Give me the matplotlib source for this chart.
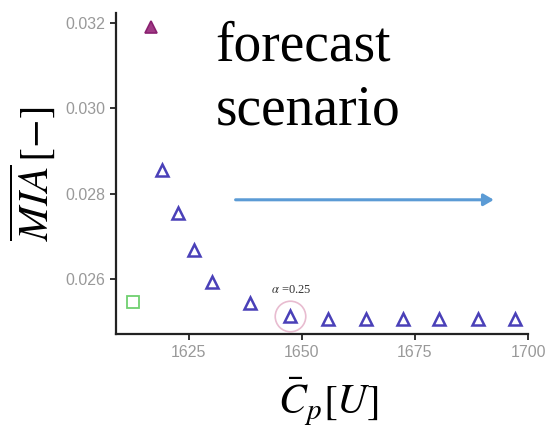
import matplotlib
matplotlib.use("Agg")
import matplotlib.pyplot as plt

plt.rcParams['mathtext.fontset'] = 'stix'
plt.rcParams['font.family'] = ['Liberation Serif', 'DejaVu Serif']

# data
tri_x = [1619.2, 1622.6, 1626.3, 1630.1, 1638.6, 1647.4, 1655.9, 1664.1, 1672.3, 1680.3, 1689.0, 1697.0]
tri_y = [0.02856, 0.02755, 0.02668, 0.02593, 0.02544, 0.02512, 0.02506, 0.02506, 0.02506, 0.02506, 0.02506, 0.02506]
red_x = [1616.8]
red_y = [0.0319]
green_x = [1612.8]
green_y = [0.02546]
alpha_x = 1647.4
alpha_y = 0.02512

xticks = [1625, 1650, 1675, 1700]
yticks = [0.026, 0.028, 0.030, 0.032]

fig = plt.figure(figsize=(5.53, 4.26), dpi=100)
ax = fig.add_axes([0.21, 0.216, 0.745, 0.753])

ax.plot(tri_x, tri_y, linestyle='none', marker='^', markersize=9,
        markerfacecolor='none', markeredgecolor='#4a40b8', markeredgewidth=1.8)
ax.plot(red_x, red_y, linestyle='none', marker='^', markersize=8,
        markerfacecolor='#a03a85', markeredgecolor='#8a2070', markeredgewidth=1.2)
ax.plot(green_x, green_y, linestyle='none', marker='s', markersize=8,
        markerfacecolor='none', markeredgecolor='#70d070', markeredgewidth=1.3)
ax.plot([alpha_x], [alpha_y], linestyle='none', marker='o', markersize=22,
        markerfacecolor='none', markeredgecolor='#e8bcd0', markeredgewidth=1.2)
ax.text(alpha_x - 4.2, alpha_y + 0.00055, r'$\alpha$ =0.25', fontsize=9, color='#333333')

ax.set_xlim(1609, 1700)
ax.set_ylim(0.02471, 0.03223)
ax.set_xticks(xticks)
ax.set_yticks(yticks)
ax.set_xticklabels([str(t) for t in xticks])
ax.set_yticklabels(['%.3f' % t for t in yticks])

for s in ['top', 'right']:
    ax.spines[s].set_visible(False)
for s in ['left', 'bottom']:
    ax.spines[s].set_linewidth(1.6)
    ax.spines[s].set_color('#222222')
ax.tick_params(length=4, width=1.3, color='#222222', labelcolor='#999999',
               labelsize=11.5, pad=4)
for lab in ax.get_xticklabels() + ax.get_yticklabels():
    lab.set_family('Liberation Sans')

# forecast annotation
fig.text(0.39, 0.951, 'forecast\nscenario', fontsize=40,
         va='top', ha='left', linespacing=1.3)
fig.add_artist(matplotlib.patches.FancyArrowPatch(
    (0.421, 0.531), (0.898, 0.531), transform=fig.transFigure,
    arrowstyle='-|>,head_length=6,head_width=3.5', color='#5b9bd5', linewidth=2.2))

ax.set_xlabel(r'$\bar{C}_p[U]$', fontsize=30)
ax.xaxis.set_label_coords(0.515, -0.13)
ax.set_ylabel(r'$\overline{MIA}\,[-]$', fontsize=30, labelpad=6)

fig.savefig('out.png', dpi=100)
